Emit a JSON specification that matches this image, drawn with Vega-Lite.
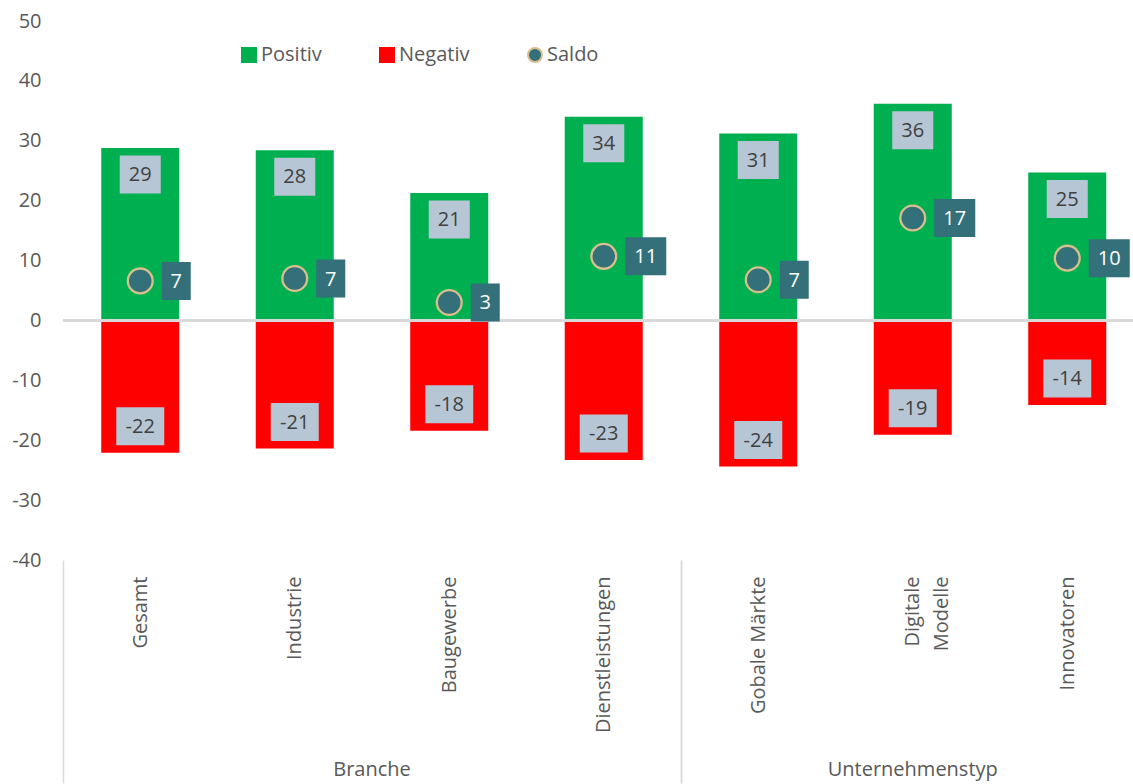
{
  "$schema": "https://vega.github.io/schema/vega-lite/v6.json",
  "autosize": {"type": "pad"},
  "padding": {"left": 11, "top": 11, "right": 0, "bottom": 0},
  "background": "white",
  "data": {
    "values": [
      {"cat": "Gesamt", "group": "Branche", "series": "Positiv", "value": 28.8},
      {"cat": "Gesamt", "group": "Branche", "series": "Negativ", "value": -22.1},
      {"cat": "Gesamt", "group": "Branche", "series": "Saldo", "value": 6.6},
      {"cat": "Industrie", "group": "Branche", "series": "Positiv", "value": 28.4},
      {"cat": "Industrie", "group": "Branche", "series": "Negativ", "value": -21.4},
      {"cat": "Industrie", "group": "Branche", "series": "Saldo", "value": 7.0},
      {"cat": "Baugewerbe", "group": "Branche", "series": "Positiv", "value": 21.3},
      {"cat": "Baugewerbe", "group": "Branche", "series": "Negativ", "value": -18.4},
      {"cat": "Baugewerbe", "group": "Branche", "series": "Saldo", "value": 3.0},
      {"cat": "Dienstleistungen", "group": "Branche", "series": "Positiv", "value": 34.0},
      {"cat": "Dienstleistungen", "group": "Branche", "series": "Negativ", "value": -23.3},
      {"cat": "Dienstleistungen", "group": "Branche", "series": "Saldo", "value": 10.7},
      {"cat": "Gobale Märkte", "group": "Unternehmenstyp", "series": "Positiv", "value": 31.2},
      {"cat": "Gobale Märkte", "group": "Unternehmenstyp", "series": "Negativ", "value": -24.4},
      {"cat": "Gobale Märkte", "group": "Unternehmenstyp", "series": "Saldo", "value": 6.8},
      {"cat": "Digitale Modelle", "group": "Unternehmenstyp", "series": "Positiv", "value": 36.2},
      {"cat": "Digitale Modelle", "group": "Unternehmenstyp", "series": "Negativ", "value": -19.1},
      {"cat": "Digitale Modelle", "group": "Unternehmenstyp", "series": "Saldo", "value": 17.1},
      {"cat": "Innovatoren", "group": "Unternehmenstyp", "series": "Positiv", "value": 24.7},
      {"cat": "Innovatoren", "group": "Unternehmenstyp", "series": "Negativ", "value": -14.1},
      {"cat": "Innovatoren", "group": "Unternehmenstyp", "series": "Saldo", "value": 10.4}
    ]
  },
  "facet": {
    "column": {
      "field": "group",
      "type": "nominal",
      "sort": ["Branche", "Unternehmenstyp"],
      "header": {
        "title": null,
        "labelOrient": "bottom",
        "labelFont": "Open Sans",
        "labelFontSize": 20,
        "labelColor": "#595959",
        "labelPadding": 200
      }
    }
  },
  "spacing": 0,
  "bounds": "flush",
  "resolve": {"scale": {"x": "independent"}},
  "spec": {
    "width": {"step": 154.5},
    "height": 539,
    "encoding": {
      "x": {
        "field": "cat",
        "type": "nominal",
        "sort": ["Gesamt", "Industrie", "Baugewerbe", "Dienstleistungen", "Gobale Märkte", "Digitale Modelle", "Innovatoren"],
        "scale": {"paddingInner": 0, "paddingOuter": 0},
        "axis": {
          "title": null,
          "domain": false,
          "labelAngle": -90,
          "labelFont": "Open Sans",
          "labelFontSize": 20,
          "labelColor": "#595959",
          "labelLineHeight": 29,
          "labelOverlap": false,
          "labelExpr": "datum.value == 'Digitale Modelle' ? ['Digitale', 'Modelle'] : datum.label",
          "ticks": true,
          "tickBand": "extent",
          "tickSize": 223,
          "tickColor": "#d9d9d9",
          "tickWidth": 1.5,
          "tickOpacity": {"condition": {"test": "datum.extra || datum.value == 'Dienstleistungen' || datum.value == 'Innovatoren'", "value": 1}, "value": 0},
          "labelPadding": -207
        }
      },
      "y": {
        "field": "value",
        "type": "quantitative",
        "scale": {"domain": [-40, 50], "nice": false, "zero": false},
        "axis": {
          "title": null,
          "domain": false,
          "ticks": false,
          "grid": false,
          "values": [-40, -30, -20, -10, 0, 10, 20, 30, 40, 50],
          "labelFont": "Open Sans",
          "labelFontSize": 20,
          "labelColor": "#595959",
          "labelPadding": 22
        }
      }
    },
    "layer": [
      {
        "transform": [{"filter": "datum.series != 'Saldo'"}],
        "mark": {"type": "bar", "width": {"band": 0.505}},
        "encoding": {
          "color": {
            "field": "series",
            "type": "nominal",
            "scale": {"domain": ["Positiv", "Negativ", "Saldo"], "range": ["#00b050", "#ff0000", "#33707a"]},
            "legend": {
              "title": null,
              "orient": "none",
              "legendX": 176,
              "legendY": 24,
              "direction": "horizontal",
              "labelFont": "Open Sans",
              "labelFontSize": 20,
              "labelColor": "#595959",
              "symbolSize": 196,
              "symbolStrokeWidth": 2,
              "columnPadding": 54,
              "labelOffset": 2
            }
          }
        }
      },
      {
        "mark": {"type": "rule", "color": "#d9d9d9", "strokeWidth": 2},
        "encoding": {"x": null, "y": {"datum": 0, "type": "quantitative"}}
      },
      {
        "transform": [{"filter": "datum.series == 'Positiv'"}],
        "mark": {"type": "point", "filled": true, "opacity": 1, "fill": "#b7c6d5", "strokeWidth": 0, "shape": "M-1,-0.927L1,-0.927L1,0.927L-1,0.927Z", "size": 1681, "yOffset": 26.5}
      },
      {
        "transform": [{"filter": "datum.series == 'Positiv'"}],
        "mark": {"type": "text", "font": "Open Sans", "fontSize": 20, "color": "#404040", "baseline": "middle", "align": "center", "yOffset": 27},
        "encoding": {"text": {"field": "value", "type": "quantitative", "format": ".0f"}}
      },
      {
        "transform": [{"filter": "datum.series == 'Negativ'"}],
        "mark": {"type": "point", "filled": true, "opacity": 1, "fill": "#b7c6d5", "strokeWidth": 0, "shape": "M-1,-0.792L1,-0.792L1,0.792L-1,0.792Z", "size": 2304, "yOffset": -26.5}
      },
      {
        "transform": [{"filter": "datum.series == 'Negativ'"}],
        "mark": {"type": "text", "font": "Open Sans", "fontSize": 20, "color": "#404040", "baseline": "middle", "align": "center", "yOffset": -26},
        "encoding": {"text": {"field": "value", "type": "quantitative", "format": ".0f"}}
      },
      {
        "transform": [{"filter": "datum.series == 'Saldo'"}],
        "mark": {"type": "point", "filled": true, "opacity": 1, "size": 615, "strokeWidth": 2.3},
        "encoding": {
          "color": {"field": "series", "type": "nominal"},
          "stroke": {
            "field": "series",
            "type": "nominal",
            "scale": {"domain": ["Positiv", "Negativ", "Saldo"], "range": ["#00b050", "#ff0000", "#d8bf8c"]}
          },
          "shape": {
            "field": "series",
            "type": "nominal",
            "scale": {"domain": ["Positiv", "Negativ", "Saldo"], "range": ["square", "square", "circle"]}
          }
        }
      },
      {
        "transform": [{"filter": "datum.series == 'Saldo' && datum.value < 9.5"}],
        "mark": {"type": "point", "filled": true, "opacity": 1, "fill": "#33707a", "strokeWidth": 0, "shape": "M-1,-1.31L1,-1.31L1,1.31L-1,1.31Z", "size": 841, "xOffset": 36}
      },
      {
        "transform": [{"filter": "datum.series == 'Saldo' && datum.value < 9.5"}],
        "mark": {"type": "text", "font": "Open Sans", "fontSize": 20, "color": "white", "baseline": "middle", "align": "center", "xOffset": 36, "yOffset": 1},
        "encoding": {"text": {"field": "value", "type": "quantitative", "format": ".0f"}}
      },
      {
        "transform": [{"filter": "datum.series == 'Saldo' && datum.value >= 9.5"}],
        "mark": {"type": "point", "filled": true, "opacity": 1, "fill": "#33707a", "strokeWidth": 0, "shape": "M-1,-0.927L1,-0.927L1,0.927L-1,0.927Z", "size": 1681, "xOffset": 42}
      },
      {
        "transform": [{"filter": "datum.series == 'Saldo' && datum.value >= 9.5"}],
        "mark": {"type": "text", "font": "Open Sans", "fontSize": 20, "color": "white", "baseline": "middle", "align": "center", "xOffset": 42, "yOffset": 1},
        "encoding": {"text": {"field": "value", "type": "quantitative", "format": ".0f"}}
      }
    ]
  },
  "config": {
    "view": {"stroke": null},
    "font": "Open Sans",
    "locale": {
      "number": {"decimal": ".", "thousands": ",", "grouping": [3], "currency": ["$", ""], "minus": "-"}
    }
  }
}
